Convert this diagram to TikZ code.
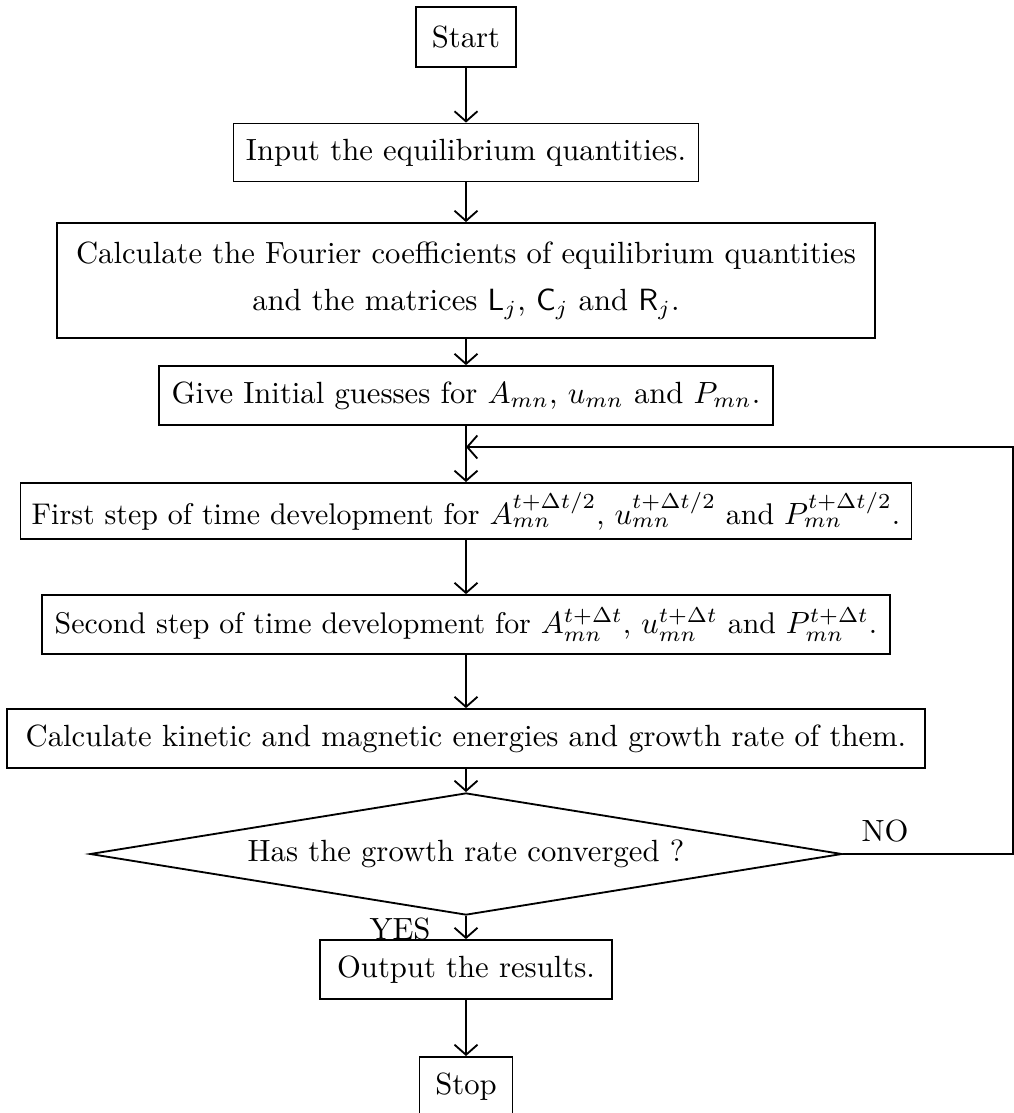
\documentclass[tikz,border=0pt]{standalone}
\usepackage{tikz}
\usetikzlibrary{shapes.geometric,arrows.meta}

\begin{document}
\begin{tikzpicture}[x=0.326pt, y=-0.326pt, line width=0.6pt,
    box/.style={rectangle, draw, inner sep=0pt, minimum height=19.2pt, font=\normalsize},
    step box/.style={box, font=\fontsize{9.75}{12}\selectfont},
    test/.style={diamond, draw, aspect=6.16, inner sep=0pt, minimum width=245.2pt, minimum height=39.8pt},
    flow/.style={-{Straight Barb[length=3.3pt, width=7.5pt]}}
]
    \useasboundingbox (0,0) rectangle (1014,1113);

    % Start and setup
    \node[box, minimum width=32.6pt, minimum height=19.6pt] (start) at (466,37) {Start};
    \node[box, minimum width=151.6pt, minimum height=18.9pt] (input) at (466,152.5) {Input the equilibrium quantities.};
    \node[box, minimum width=266.7pt, minimum height=37.5pt, align=center, font=\fontsize{10}{15.6}\selectfont] (coef) at (466,280.5) {
        Calculate the Fourier coefficients of equilibrium quantities \\
        and the matrices $\mathsf{L}_j$, $\mathsf{C}_j$ and $\mathsf{R}_j$.
    };
    \node[box, minimum width=200.2pt] (guess) at (466,395.5) {Give Initial guesses for $A_{mn}$, $u_{mn}$ and $P_{mn}$.};

    % Time stepping loop
    \node[step box, minimum width=290.5pt, minimum height=18.3pt] (half) at (466,511) {First step of time development for $A_{mn}^{t+\Delta t/2}$, $u_{mn}^{t+\Delta t/2}$ and $P_{mn}^{t+\Delta t/2}$.};
    \node[step box, minimum width=276.4pt] (full) at (466,624.5) {Second step of time development for $A_{mn}^{t+\Delta t}$, $u_{mn}^{t+\Delta t}$ and $P_{mn}^{t+\Delta t}$.};
    \node[box, minimum width=299pt] (energy) at (466,738.5) {Calculate kinetic and magnetic energies and growth rate of them.};
    \node[test] (conv) at (466,854) {Has the growth rate converged ?};

    % Finish
    \node[box, minimum width=95.2pt] (output) at (466,969.5) {Output the results.};
    \node[box, minimum width=30.3pt, minimum height=19.6pt] (stop) at (466,1087) {Stop};

    \node (no) at (885,831) {NO};
    \node (yes) at (400,929) {YES};

    % Arrows
    \coordinate (merge) at (466,447);
    \draw[flow] (start) -- (input);
    \draw[flow] (input) -- (coef);
    \draw[flow] (coef) -- (guess);
    \draw[flow] (guess) -- (half);
    \draw[flow] (half) -- (full);
    \draw[flow] (full) -- (energy);
    \draw[flow] (energy) -- (conv);
    \draw[flow] (conv) -- (output);
    \draw[flow] (output) -- (stop);
    \draw[flow] (conv.east) -- ++(170,0) |- (merge);
\end{tikzpicture}
\end{document}
